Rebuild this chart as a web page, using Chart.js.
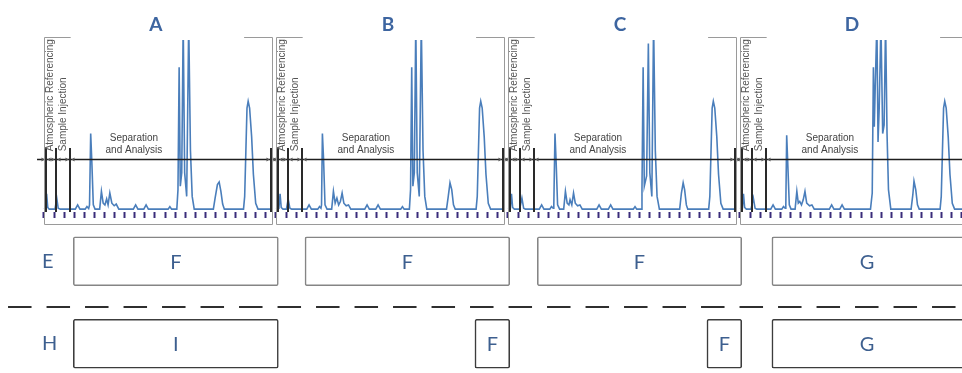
<!DOCTYPE html>
<html>
<head>
<meta charset="utf-8">
<script src="https://cdn.jsdelivr.net/npm/chart.js@4.4.1/dist/chart.umd.min.js"></script>
<style>
  html, body { margin: 0; padding: 0; background: #fff; overflow: hidden; }
  #wrap { position: relative; width: 962px; height: 373px; }
  canvas { position: absolute; left: 0; }
  #runs { top: 0; width: 962px; height: 230px; }
  #schedule { top: 220px; width: 962px; height: 165px; }
</style>
</head>
<body>
<div id="wrap">
  <canvas id="runs" width="962" height="230"></canvas>
  <canvas id="schedule" width="962" height="165"></canvas>
</div>
<script>
// time in minutes, one run every 40 min
const runNames = ['A', 'B', 'C', 'D'];
const runStarts = [0, 40, 80, 120];

// detector signal per run, [minutes into run, signal]
const runA = [[0,0.5],[0.25,1],[0.45,9.5],[0.65,1.5],[0.9,0.5],[1.9,0.5],[2.2,7],[2.45,1],[2.8,0.5],[5.4,0.5],[5.8,3],[6.2,0.5],[7.1,0.5],[7.4,2],[7.7,0.8],[7.85,3],[8.05,45],[8.25,28],[8.5,3],[8.8,0.5],[9.6,0.5],[9.9,11],[10.2,4],[10.5,3],[10.8,6.5],[11.05,3],[11.35,10],[11.7,4],[12.1,2.5],[12.45,3.5],[12.9,0.5],[15.4,0.5],[15.8,3],[16.2,0.5],[17.2,0.5],[17.6,3],[18.0,0.5],[21.4,0.5],[21.7,2],[22.0,0.5],[22.9,0.5],[23.1,12],[23.3,84],[23.5,14],[23.75,22],[24.0,110],[24.25,22],[24.6,8],[24.95,110],[25.25,35],[25.55,8],[25.9,0.5],[29.2,0.5],[29.5,7],[29.9,15],[30.2,16.5],[30.5,11],[30.8,3.5],[31.1,0.5],[34.4,0.5],[34.6,8],[34.8,34],[35.0,60],[35.2,64],[35.45,60],[35.8,43],[36.1,21],[36.5,4],[36.9,0.5],[39.3,0.5]];
const runB = [[0,0.5],[0.5,1],[0.7,9.5],[0.9,1.5],[1.2,0.5],[1.8,0.5],[2.1,6.5],[2.4,1],[2.7,0.5],[5.3,0.5],[5.7,3],[6.1,0.5],[7.2,0.5],[7.5,2],[7.75,1],[7.85,3],[8.0,45],[8.2,30],[8.45,3],[8.8,0.5],[9.6,0.5],[9.9,11],[10.2,4],[10.5,7],[10.8,3],[11.1,5],[11.4,10],[11.7,4],[12.1,2.5],[12.5,3],[12.9,0.5],[15.3,0.5],[15.7,3],[16.1,0.5],[17.2,0.5],[17.6,3],[18.0,0.5],[21.5,0.5],[21.8,2],[22.1,0.5],[23.0,0.5],[23.2,12],[23.4,84],[23.6,14],[23.85,22],[24.1,110],[24.35,22],[24.7,8],[25.05,110],[25.35,35],[25.65,8],[26.0,0.5],[29.4,0.5],[29.7,8],[30.0,16],[30.3,12],[30.6,3],[30.9,0.5],[34.5,0.5],[34.7,8],[34.9,34],[35.1,60],[35.3,64],[35.55,60],[35.9,43],[36.2,21],[36.6,4],[37.0,0.5],[39.3,0.5]];
const runC = [[0,0.5],[0.4,1],[0.6,9.5],[0.8,1.5],[1.1,0.5],[2.0,0.5],[2.4,7],[2.7,1],[3.0,0.5],[5.4,0.5],[5.8,3],[6.2,0.5],[7.2,0.5],[7.5,2],[7.8,1],[7.9,3],[8.1,45],[8.3,28],[8.55,3],[8.9,0.5],[9.6,0.5],[9.9,11],[10.2,4],[10.5,3],[10.7,6],[11.0,3],[11.3,10],[11.6,4],[12.0,2.5],[12.4,3],[12.8,0.5],[15.3,0.5],[15.7,3],[16.1,0.5],[17.3,0.5],[17.7,3],[18.1,0.5],[21.6,0.5],[21.9,2],[22.2,0.5],[23.0,0.5],[23.1,12],[23.3,84],[23.5,14],[23.9,20],[24.2,98],[24.45,22],[24.8,8],[25.1,110],[25.4,35],[25.7,8],[26.1,0.5],[29.6,0.5],[29.9,10],[30.2,16],[30.45,12],[30.75,3],[31.0,0.5],[34.6,0.5],[34.8,8],[35.0,34],[35.2,60],[35.4,64],[35.65,60],[36.0,43],[36.3,21],[36.7,4],[37.1,0.5],[39.3,0.5]];
const runD = [[0,0.5],[0.4,1],[0.6,9.5],[0.8,1.5],[1.1,0.5],[1.9,0.5],[2.3,7],[2.6,1],[2.9,0.5],[5.3,0.5],[5.7,3],[6.1,0.5],[7.2,0.5],[7.5,2],[7.8,1],[7.9,3],[8.05,44],[8.25,26],[8.5,3],[8.8,0.5],[9.5,0.5],[9.8,11],[10.05,4],[10.3,5],[10.6,3],[10.9,6],[11.2,11],[11.5,4],[12.0,2.5],[12.4,3],[12.8,0.5],[15.4,0.5],[15.8,3],[16.2,0.5],[17.2,0.5],[17.6,3],[18.0,0.5],[22.5,0.5],[22.8,10],[23.0,84],[23.15,49],[23.3,70],[23.6,110],[23.8,40],[24.0,60],[24.3,110],[24.6,45],[24.85,50],[25.1,110],[25.35,45],[25.6,12],[26.0,0.5],[29.5,0.5],[29.8,9],[30.0,17],[30.3,12],[30.6,3],[30.9,0.5],[34.5,0.5],[34.7,8],[34.9,34],[35.1,60],[35.3,64],[35.55,60],[35.9,43],[36.2,21],[36.6,4],[37.0,0.5],[39.3,0.5]];
const runs = [runA, runB, runC, runD];

// valve events inside each run (min)
const eventTimes = [0.3, 2.1, 4.4, 39.1];
const sampleStep = 40 / 23;

// schedule rows
const rows = ['E', 'H'];
const rowE = [[5.05, 40.4], [45, 80.3], [85.05, 120.3], [125.5, 165]];
const rowETags = ['F', 'F', 'F', 'G'];
const rowH = [[5.05, 40.4], [74.3, 80.3], [114.3, 120.3], [125.5, 165]];
const rowHTags = ['I', 'F', 'F', 'G'];

const X_MIN = -7.586, X_MAX = 158.276;
const BLUE = '#3d5f8f';

Chart.defaults.font.family = '"Liberation Sans", Arial, sans-serif';

const px = v => Math.round(v) + 0.5;

const runDecor = {
  id: 'runDecor',
  afterDatasetsDraw(chart) {
    const { ctx, width, scales: { x, y } } = chart;
    ctx.save();

    // timing line
    const ly = px(y.getPixelForValue(30));
    ctx.strokeStyle = '#1e1e1e';
    ctx.lineWidth = 1.3;
    ctx.beginPath();
    ctx.moveTo(x.getPixelForValue(-1.2), ly);
    ctx.lineTo(width, ly);
    ctx.stroke();

    runStarts.forEach((t0, i) => {
      const L = px(x.getPixelForValue(t0));
      const R = px(x.getPixelForValue(t0 + 39.3));
      const T = px(y.getPixelForValue(101.8));
      const B = px(y.getPixelForValue(-8.2));

      // frame with gap for the run letter
      ctx.strokeStyle = '#9a9a9a';
      ctx.lineWidth = 1;
      ctx.beginPath();
      ctx.moveTo(x.getPixelForValue(t0 + 4.6), T);
      ctx.lineTo(L, T);
      ctx.lineTo(L, B);
      ctx.lineTo(R, B);
      ctx.lineTo(R, T);
      ctx.lineTo(x.getPixelForValue(t0 + 34.5), T);
      ctx.stroke();

      // event markers
      ctx.strokeStyle = '#2a2a2a';
      ctx.lineWidth = 2;
      eventTimes.forEach(te => {
        const xm = Math.round(x.getPixelForValue(t0 + te));
        ctx.beginPath();
        ctx.moveTo(xm, y.getPixelForValue(36.5));
        ctx.lineTo(xm, y.getPixelForValue(-1.2));
        ctx.stroke();
        ctx.fillStyle = '#555';
        ctx.beginPath();
        ctx.moveTo(xm - 1.5, ly); ctx.lineTo(xm - 4.5, ly - 2); ctx.lineTo(xm - 4.5, ly + 2);
        ctx.moveTo(xm + 1.5, ly); ctx.lineTo(xm + 4.5, ly - 2); ctx.lineTo(xm + 4.5, ly + 2);
        ctx.fill();
      });

      // step captions
      ctx.fillStyle = '#555';
      ctx.font = '10px "Liberation Sans", Arial, sans-serif';
      ctx.textAlign = 'left';
      ctx.textBaseline = 'middle';
      [['Atmospheric Referencing', 1.05], ['Sample Injection', 3.3]].forEach(([txt, dt]) => {
        ctx.save();
        ctx.translate(x.getPixelForValue(t0 + dt), y.getPixelForValue(34.5));
        ctx.rotate(-Math.PI / 2);
        ctx.fillText(txt, 0, 0);
        ctx.restore();
      });
      ctx.textAlign = 'center';
      ctx.fillStyle = '#444';
      ctx.fillText('Separation', x.getPixelForValue(t0 + 15.5), y.getPixelForValue(42.4));
      ctx.fillText('and Analysis', x.getPixelForValue(t0 + 15.5), y.getPixelForValue(35.3));

      // run letter
      ctx.fillStyle = '#3d65a0';
      ctx.font = 'bold 19px Lato, sans-serif';
      ctx.fillText(runNames[i], x.getPixelForValue(t0 + 19.3), y.getPixelForValue(108.8));
    });
    ctx.restore();
  }
};

new Chart(document.getElementById('runs'), {
  type: 'line',
  data: {
    datasets: runs.map((run, i) => ({
      label: runNames[i],
      data: run.map(([t, v]) => ({ x: runStarts[i] + t, y: v })),
      borderColor: '#4a7ebb',
      borderWidth: 1.6,
      pointRadius: 0,
      tension: 0
    }))
  },
  options: {
    responsive: false,
    animation: false,
    devicePixelRatio: 1,
    layout: { padding: { top: 40, left: 0, right: 0, bottom: 0 } },
    plugins: { legend: { display: false }, tooltip: { enabled: false } },
    scales: {
      x: {
        type: 'linear',
        min: X_MIN,
        max: X_MAX,
        position: 'bottom',
        afterFit: s => { s.height = 18; },
        border: { display: false },
        grid: {
          drawOnChartArea: false,
          drawTicks: true,
          tickLength: 6,
          tickWidth: 2,
          tickColor: c => (c.tick && c.tick.value > -0.5 ? '#3a2c7a' : 'rgba(0,0,0,0)')
        },
        ticks: { display: false, stepSize: sampleStep, autoSkip: false, maxTicksLimit: 200, includeBounds: false }
      },
      y: { display: false, min: -1.176, max: 100 }
    }
  },
  plugins: [runDecor]
});

const scheduleDecor = {
  id: 'scheduleDecor',
  afterDatasetsDraw(chart) {
    const { ctx, chartArea, scales: { x, y } } = chart;
    ctx.save();
    const dy = Math.round((y.getPixelForValue(0) + y.getPixelForValue(1)) / 2 + 4);
    ctx.strokeStyle = '#2f2f2f';
    ctx.lineWidth = 2;
    ctx.setLineDash([23.5, 15]);
    ctx.beginPath();
    ctx.moveTo(x.getPixelForValue(-6.2), dy);
    ctx.lineTo(chartArea.right, dy);
    ctx.stroke();
    ctx.setLineDash([]);

    ctx.fillStyle = BLUE;
    ctx.font = '20px Lato, sans-serif';
    ctx.textAlign = 'center';
    ctx.textBaseline = 'middle';
    chart.data.datasets.forEach((ds, i) => {
      chart.getDatasetMeta(i).data.forEach((bar, j) => {
        const l = Math.max(Math.min(bar.x, bar.base), chartArea.left);
        const r = Math.min(Math.max(bar.x, bar.base), chartArea.right);
        ctx.fillText(ds.tags[j], (l + r) / 2, bar.y + 1);
      });
    });
    ctx.restore();
  }
};

new Chart(document.getElementById('schedule'), {
  type: 'bar',
  data: {
    labels: rows,
    datasets: rowE.map((span, i) => ({
      data: [span, rowH[i]],
      tags: [rowETags[i], rowHTags[i]],
      backgroundColor: '#ffffff',
      borderColor: c => (c.dataIndex === 0 ? '#858585' : '#3c3c3c'),
      borderWidth: 1.6,
      borderSkipped: false,
      borderRadius: 2,
      barThickness: 49,
      grouped: false
    }))
  },
  options: {
    indexAxis: 'y',
    responsive: false,
    animation: false,
    devicePixelRatio: 1,
    layout: { padding: 0 },
    plugins: { legend: { display: false }, tooltip: { enabled: false } },
    scales: {
      x: { type: 'linear', display: false, min: X_MIN, max: X_MAX },
      y: {
        type: 'category',
        afterFit: s => { s.width = 0; s.paddingTop = 0; s.paddingBottom = 0; },
        border: { display: false },
        grid: { display: false },
        ticks: { mirror: true, padding: 42, color: BLUE, font: { family: 'Lato', size: 20 } }
      }
    }
  },
  plugins: [scheduleDecor]
});
</script>
</body>
</html>
